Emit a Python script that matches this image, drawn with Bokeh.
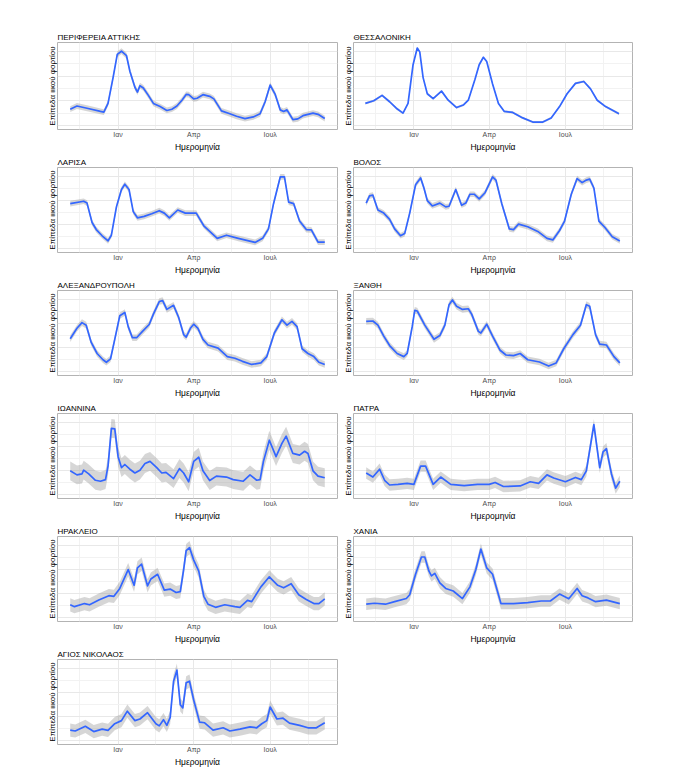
from bokeh.plotting import figure
from bokeh.layouts import gridplot
from bokeh.models import Range1d, FixedTicker, Title
from bokeh.embed import file_html
from bokeh.resources import INLINE

# x: days relative to 1 January; y: viral-load level (arbitrary units)
month_ticks = [0, 90, 181]
month_labels = ["Ιαν", "Απρ", "Ιουλ"]
minor_month_ticks = [-46, 45, 135, 227]
level_ticks = [4.3, 30, 55.3, 81]
minor_level_ticks = [17, 42.7, 68]
y_label = "Επίπεδα ιικού φορτίου"
x_label = "Ημερομηνία"

attiki_days = [-57, -49, -37, -21, -17, -12, -6, -1, 4, 10, 14, 20, 23, 26, 30, 36, 42, 50, 58, 64, 70, 76, 81,
               84, 90, 94, 101, 109, 114, 123, 133, 141, 151, 161, 169, 175, 181, 187, 193, 197, 201, 208, 214,
               220, 232, 238, 246]
attiki_level = [21.0, 24.3, 22.0, 18.7, 18.0, 27.0, 53.7, 77.7, 81.0, 76.3, 60.3, 43.7, 38.7, 45.3, 43.0, 35.3,
                27.0, 23.7, 19.7, 21.0, 24.3, 30.3, 36.3, 36.0, 31.7, 32.3, 36.0, 34.3, 31.7, 19.3, 16.3, 13.7,
                11.3, 13.0, 16.3, 28.7, 46.0, 36.3, 20.3, 18.7, 20.3, 10.3, 11.0, 14.3, 17.0, 15.7, 11.3]
attiki_se = 3.0

thess_days = [-58, -48, -38, -29, -21, -13, -7, -1, 4, 7, 11, 16, 23, 33, 41, 51, 59, 65, 73, 78, 83, 87, 94,
              101, 108, 118, 130, 142, 154, 164, 174, 183, 193, 203, 211, 219, 229, 245]
thess_level = [27.0, 29.7, 35.3, 28.7, 22.0, 17.0, 27.0, 67.0, 84.3, 80.3, 53.7, 37.0, 32.0, 39.7, 30.3, 22.7,
               25.3, 30.3, 52.0, 67.0, 74.7, 70.3, 47.0, 27.0, 18.7, 17.7, 12.0, 7.7, 7.7, 12.0, 23.7, 37.0,
               47.7, 49.7, 42.0, 30.3, 23.7, 16.3]
thess_se = 1.2

larisa_days = [-57, -41, -37, -31, -26, -19, -12, -8, -2, 4, 8, 13, 18, 23, 31, 40, 49, 55, 61, 71, 80, 93, 102,
               118, 129, 143, 163, 172, 179, 185, 193, 198, 203, 209, 216, 224, 230, 238, 246]
larisa_level = [51.7, 54.3, 52.3, 31.7, 24.3, 17.7, 12.3, 18.3, 48.3, 66.7, 72.3, 66.7, 43.3, 36.7, 38.3, 41.0,
                44.3, 41.7, 36.7, 45.0, 41.7, 41.7, 28.3, 15.0, 18.3, 15.0, 10.7, 15.0, 25.0, 51.7, 80.0, 80.0,
                53.3, 51.7, 33.3, 24.3, 24.0, 11.0, 11.0]
larisa_se = 3.0

volos_days = [-57, -53, -49, -43, -36, -29, -23, -16, -11, -5, 2, 8, 12, 16, 22, 31, 38, 42, 50, 57, 62, 67, 72,
              78, 85, 94, 98, 105, 114, 119, 125, 136, 148, 159, 166, 174, 180, 188, 195, 201, 206, 210, 215,
              221, 228, 237, 246]
volos_level = [52.3, 60.0, 60.7, 45.0, 41.7, 35.0, 25.0, 17.7, 20.0, 41.7, 71.7, 79.0, 68.3, 55.0, 49.3, 52.3,
               48.3, 49.0, 66.7, 50.0, 52.3, 61.7, 61.7, 56.7, 63.3, 80.0, 76.7, 51.7, 25.0, 24.3, 30.0, 27.3,
               22.3, 15.0, 13.3, 23.3, 33.3, 61.7, 78.3, 74.0, 76.7, 77.7, 68.3, 33.3, 26.7, 16.7, 12.3]
volos_se = 3.0

alex_days = [-57, -49, -43, -38, -32, -25, -18, -14, -9, -4, 2, 8, 12, 17, 22, 29, 37, 42, 49, 53, 58, 66, 72,
             78, 81, 86, 90, 95, 101, 107, 119, 130, 139, 148, 159, 170, 177, 186, 195, 201, 207, 213, 219, 226,
             233, 239, 246]
alex_level = [39.0, 50.0, 56.0, 53.3, 35.0, 23.3, 16.7, 14.0, 17.7, 38.3, 63.3, 66.7, 51.7, 40.0, 40.0, 46.7,
              54.0, 65.0, 78.3, 79.3, 70.0, 74.3, 61.7, 43.3, 40.7, 50.0, 54.3, 50.0, 38.3, 32.3, 29.0, 20.0,
              18.3, 15.0, 11.7, 13.3, 20.0, 45.0, 59.0, 53.3, 57.3, 51.7, 28.3, 23.3, 20.0, 14.0, 11.7]
alex_se = 3.5

xanthi_days = [-57, -49, -43, -36, -29, -20, -12, -8, -2, 1, 4, 13, 24, 31, 37, 42, 46, 51, 58, 65, 69, 77, 80,
               87, 94, 103, 110, 119, 127, 136, 150, 161, 170, 179, 190, 199, 206, 210, 217, 222, 230, 239, 246]
xanthi_level = [57.3, 57.7, 53.3, 41.7, 31.7, 23.3, 20.0, 23.3, 51.7, 69.0, 68.3, 53.3, 38.3, 42.3, 53.3, 75.0,
                80.0, 73.3, 70.0, 70.7, 65.0, 46.7, 45.0, 54.3, 41.7, 26.7, 21.7, 21.0, 23.3, 16.7, 14.3, 10.0,
                13.3, 28.3, 43.3, 53.3, 75.0, 73.3, 43.3, 33.3, 32.3, 20.0, 13.3]
xanthi_se = 3.5

ioannina_days = [-57, -49, -43, -41, -35, -27, -21, -15, -12, -8, -4, 0, 4, 8, 14, 20, 26, 32, 38, 46, 52, 57,
                 66, 73, 78, 84, 90, 96, 101, 109, 117, 129, 137, 149, 157, 165, 169, 173, 180, 188, 195, 200,
                 208, 216, 222, 226, 232, 238, 246]
ioannina_level = [29.3, 25.0, 26.0, 30.0, 26.0, 19.3, 18.3, 20.0, 34.3, 74.3, 73.7, 44.3, 32.7, 36.0, 31.0,
                  27.0, 30.0, 37.0, 39.3, 32.7, 27.0, 27.7, 21.0, 31.7, 27.0, 17.7, 39.3, 43.7, 29.3, 19.0,
                  23.7, 22.7, 20.0, 18.3, 25.0, 19.3, 20.0, 39.3, 61.7, 44.3, 58.3, 66.0, 47.7, 46.0, 50.0,
                  47.7, 29.3, 23.7, 22.0]
ioannina_se = 10.0

patra_days = [-57, -49, -41, -35, -29, -19, -8, 0, 8, 14, 23, 32, 44, 60, 76, 90, 97, 107, 127, 139, 149, 159,
              167, 181, 193, 200, 206, 215, 222, 226, 230, 236, 241, 246]
patra_level = [27.0, 22.7, 31.0, 19.3, 14.3, 15.0, 16.0, 15.0, 34.3, 34.3, 15.0, 22.7, 15.0, 13.7, 15.0, 15.0,
               17.0, 12.7, 13.3, 17.7, 16.0, 25.0, 21.7, 17.7, 22.3, 20.0, 29.3, 78.3, 32.7, 49.3, 52.7, 26.0,
               11.0, 18.3]
patra_se = 6.0

heraklio_days = [-57, -52, -40, -34, -23, -11, -5, 2, 12, 19, 23, 28, 35, 39, 47, 55, 62, 69, 74, 78, 81, 85, 90,
                 96, 102, 107, 116, 127, 139, 145, 154, 159, 170, 180, 190, 197, 206, 215, 224, 233, 239, 246]
heraklio_level = [17.7, 15.7, 19.0, 17.7, 22.7, 27.3, 26.7, 35.0, 55.0, 38.3, 56.7, 60.7, 37.7, 45.0, 50.0, 33.3,
                  34.3, 30.7, 31.7, 55.0, 75.0, 78.3, 65.0, 53.3, 26.7, 18.3, 15.0, 17.7, 15.7, 15.0, 22.3,
                  21.0, 36.7, 47.3, 38.3, 35.7, 40.0, 28.3, 23.3, 19.0, 19.0, 24.0]
heraklio_se = 7.0

chania_days = [-57, -47, -34, -23, -9, -5, 2, 9, 13, 18, 21, 25, 31, 38, 47, 58, 67, 74, 80, 87, 94, 104, 119,
               136, 152, 163, 174, 185, 195, 201, 208, 217, 230, 246]
chania_level = [18.3, 19.3, 18.3, 21.0, 24.3, 28.3, 50.0, 68.3, 68.3, 53.3, 48.3, 51.0, 41.0, 35.0, 32.3, 24.3,
                36.7, 55.0, 76.7, 56.7, 50.0, 19.0, 19.0, 20.0, 21.7, 21.7, 29.0, 24.0, 35.0, 27.3, 25.0, 21.0,
                22.7, 19.0]
chania_se = 6.0

agios_days = [-57, -51, -39, -29, -19, -12, -4, 4, 11, 20, 26, 35, 45, 49, 54, 58, 62, 66, 70, 74, 77, 81, 85, 90,
              97, 103, 113, 125, 133, 145, 157, 165, 171, 177, 181, 189, 196, 204, 216, 226, 236, 246]
agios_level = [15.3, 14.3, 19.3, 13.7, 16.3, 15.0, 22.0, 25.3, 35.3, 25.3, 27.0, 33.7, 22.0, 19.7, 26.3, 20.3,
               28.7, 67.0, 78.7, 42.0, 38.7, 65.3, 67.0, 47.0, 23.7, 23.0, 15.3, 17.7, 14.3, 16.3, 18.7, 17.7,
               22.0, 25.3, 39.7, 27.0, 28.0, 22.7, 20.3, 17.7, 17.7, 23.0]
agios_se = 7.0

panels = [
    ("ΠΕΡΙΦΕΡΕΙΑ ΑΤΤΙΚΗΣ", attiki_days, attiki_level, attiki_se),
    ("ΘΕΣΣΑΛΟΝΙΚΗ", thess_days, thess_level, thess_se),
    ("ΛΑΡΙΣΑ", larisa_days, larisa_level, larisa_se),
    ("ΒΟΛΟΣ", volos_days, volos_level, volos_se),
    ("ΑΛΕΞΑΝΔΡΟΥΠΟΛΗ", alex_days, alex_level, alex_se),
    ("ΞΑΝΘΗ", xanthi_days, xanthi_level, xanthi_se),
    ("ΙΩΑΝΝΙΝΑ", ioannina_days, ioannina_level, ioannina_se),
    ("ΠΑΤΡΑ", patra_days, patra_level, patra_se),
    ("ΗΡΑΚΛΕΙΟ", heraklio_days, heraklio_level, heraklio_se),
    ("ΧΑΝΙΑ", chania_days, chania_level, chania_se),
    ("ΑΓΙΟΣ ΝΙΚΟΛΑΟΣ", agios_days, agios_level, agios_se),
]

FONT = "Liberation Sans"
x_start, x_end = -57, 246
pad = 0.05 * (x_end - x_start)


def make_panel(idx, title, days, level, se):
    row, col = divmod(idx, 2)
    first = row == 0
    L = 57 if col == 0 else 14
    R = 2 if col == 0 else 10
    T = 42 if first else 11
    B = 22
    fw = 280 if col == 0 else 279
    W = L + fw + R
    H = T + 90 + B
    p = figure(width=W, height=H, min_border_left=L, min_border_right=R,
               min_border_top=T, min_border_bottom=B,
               x_range=Range1d(x_start - pad, x_end + pad), y_range=Range1d(0, 90),
               output_backend="svg", toolbar_location=None, title=title)
    lower = [v - se for v in level]
    upper = [v + se for v in level]
    p.varea(x=days, y1=lower, y2=upper, fill_color="#999999", fill_alpha=0.4)
    p.line(days, level, line_color="#3366FF", line_width=1.7, line_join="round")

    p.outline_line_color = "#B3B3B3"
    p.outline_line_width = 1
    p.background_fill_color = "white"
    p.border_fill_color = "white"

    p.title.text_font = FONT
    p.title.text_font_size = "8px"
    p.title.text_font_style = "normal"
    p.title.text_color = "#000000"
    p.title.standoff = 2
    p.title.align = "left"

    xa = p.xaxis[0]
    xa.ticker = FixedTicker(ticks=month_ticks, minor_ticks=minor_month_ticks)
    xa.major_label_overrides = {t: lab for t, lab in zip(month_ticks, month_labels)}
    xa.axis_line_color = None
    xa.major_tick_out = 0
    xa.major_tick_in = 0
    xa.minor_tick_out = 0
    xa.minor_tick_in = 0
    xa.major_label_standoff = 1
    xa.major_label_text_font = FONT
    xa.major_label_text_font_size = "7px"
    xa.major_label_text_color = "#4D4D4D"
    xa.axis_label = x_label
    xa.axis_label_text_font = FONT
    xa.axis_label_text_font_size = "8.5px"
    xa.axis_label_text_font_style = "normal"
    xa.axis_label_text_color = "#000000"
    xa.axis_label_standoff = 1

    # y axis has no tick labels in the reference: hide it, keep its grid
    p.yaxis.visible = False
    p.ygrid[0].ticker = FixedTicker(ticks=level_ticks, minor_ticks=minor_level_ticks)
    p.add_layout(Title(text=y_label, align="center", text_font=FONT, text_font_size="8px",
                       text_font_style="normal", text_color="#000000", standoff=2), "left")

    for g in (p.xgrid[0], p.ygrid[0]):
        g.grid_line_color = "#E8E8E8"
        g.grid_line_width = 1
        g.minor_grid_line_color = "#F2F2F2"
        g.minor_grid_line_width = 1
    return p


figs = [make_panel(i, *pan) for i, pan in enumerate(panels)]
rows = [figs[i:i + 2] for i in range(0, len(figs), 2)]
rows[-1].append(None)
grid = gridplot(rows, toolbar_location=None)

open("out.html", "w").write(file_html(grid, INLINE))
